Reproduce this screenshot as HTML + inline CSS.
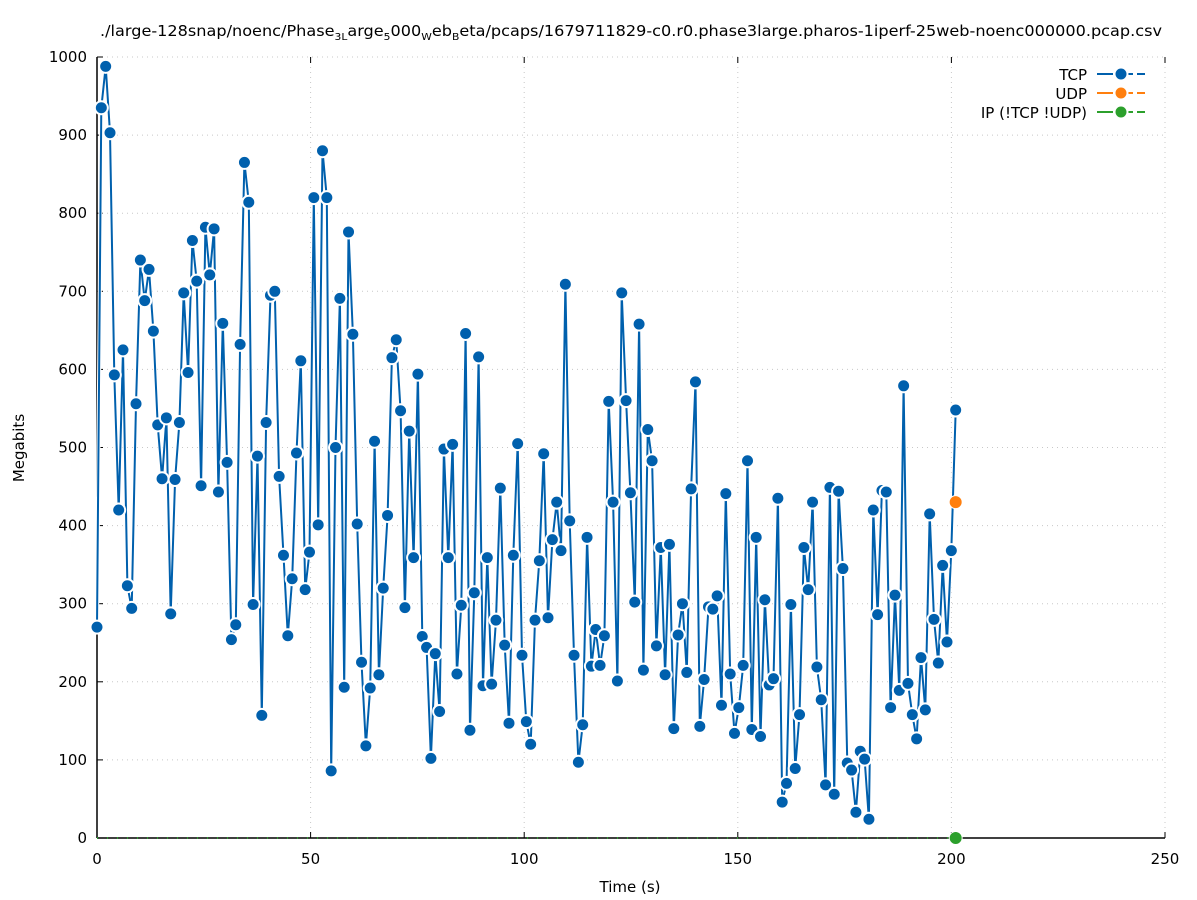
<!DOCTYPE html>
<html><head><meta charset="utf-8"><style>
html,body{margin:0;padding:0;background:#fff}
svg{display:block;font-family:"DejaVu Sans","Liberation Sans",sans-serif}
</style></head><body>
<svg id="s" width="1197" height="900" xmlns="http://www.w3.org/2000/svg">
<rect width="1197" height="900" fill="#fff"/>
<g id="grid" stroke="#c8c8c8" stroke-width="1" stroke-dasharray="1,4"></g>
<g id="axes"></g>
<g id="series"></g>
<text x="631" y="36" text-anchor="middle" font-size="15" textLength="1062" lengthAdjust="spacingAndGlyphs">./large-128snap/noenc/Phase<tspan font-size="10" dy="4">3L</tspan><tspan dy="-4">arge</tspan><tspan font-size="10" dy="4">5</tspan><tspan dy="-4">000</tspan><tspan font-size="10" dy="4">W</tspan><tspan dy="-4">eb</tspan><tspan font-size="10" dy="4">B</tspan><tspan dy="-4">eta/pcaps/1679711829-c0.r0.phase3large.pharos-1iperf-25web-noenc000000.pcap.csv</tspan></text>
<text x="630" y="892" text-anchor="middle" font-size="15">Time (s)</text>
<text transform="translate(24,448) rotate(-90)" text-anchor="middle" font-size="15">Megabits</text>
<g font-size="15" text-anchor="end">
<text x="1087" y="80">TCP</text>
<text x="1087" y="99">UDP</text>
<text x="1087" y="118">IP (!TCP  !UDP)</text>
</g>
<g stroke-width="2">
<line x1="1097" y1="74" x2="1145" y2="74" stroke="#0060ad" stroke-dasharray="16,4"/>
<line x1="1097" y1="93" x2="1145" y2="93" stroke="#ff7f0e" stroke-dasharray="16,4"/>
<line x1="1097" y1="112" x2="1145" y2="112" stroke="#2ca02c" stroke-dasharray="16,4"/>
</g>
<circle cx="1121" cy="74" r="6.5" fill="#0060ad" stroke="#fff" stroke-width="2"/>
<circle cx="1121" cy="93" r="6.5" fill="#ff7f0e" stroke="#fff" stroke-width="2"/>
<circle cx="1121" cy="112" r="6.5" fill="#2ca02c" stroke="#fff" stroke-width="2"/>
</svg>
<script>
var NS="http://www.w3.org/2000/svg";
function X(t){return 97+t*4.272;}
function Y(v){return 838-v*0.781;}
function el(p,n,a,txt){var e=document.createElementNS(NS,n);for(var k in a)e.setAttribute(k,a[k]);if(txt!==undefined)e.textContent=txt;p.appendChild(e);return e;}
var grid=document.getElementById('grid'),axes=document.getElementById('axes'),ser=document.getElementById('series');
for(var v=100;v<=1000;v+=100)el(grid,'line',{x1:97,x2:1165,y1:Y(v),y2:Y(v)});
for(var t=50;t<=250;t+=50)el(grid,'line',{x1:X(t),x2:X(t),y1:57,y2:838});
el(axes,'line',{x1:97,y1:57,x2:97,y2:838,stroke:'#000','stroke-width':1.5});
el(axes,'line',{x1:97,y1:838,x2:1165,y2:838,stroke:'#000','stroke-width':1.5});
for(var v=0;v<=1000;v+=100){el(axes,'line',{x1:97,x2:103,y1:Y(v),y2:Y(v),stroke:'#000'});
 el(axes,'text',{x:87,y:Y(v)+5,'text-anchor':'end','font-size':15},String(v));}
for(var t=0;t<=250;t+=50){el(axes,'line',{x1:X(t),x2:X(t),y1:838,y2:832,stroke:'#000'});
 el(axes,'line',{x1:X(t),x2:X(t),y1:57,y2:63,stroke:'#000'});
 el(axes,'text',{x:X(t),y:864,'text-anchor':'middle','font-size':15},String(t));}
var d=[270,935,988,903,593,420,625,323,294,556,740,688,728,649,529,460,538,287,459,532,698,596,765,713,451,782,721,780,443,659,481,254,273,632,865,814,299,489,157,532,695,700,463,362,259,332,493,611,318,366,820,401,880,820,86,500,691,193,776,645,402,225,118,192,508,209,320,413,615,638,547,295,521,359,594,258,244,102,236,162,498,359,504,210,298,646,138,314,616,195,359,197,279,448,247,147,362,505,234,149,120,279,355,492,282,382,430,368,709,406,234,97,145,385,220,267,221,259,559,430,201,698,560,442,302,658,215,523,483,246,372,209,376,140,260,300,212,447,584,143,203,296,293,310,170,441,210,134,167,221,483,139,385,130,305,196,204,435,46,70,299,89,158,372,318,430,219,177,68,449,56,444,345,96,87,33,111,101,24,420,286,445,443,167,311,189,579,198,158,127,231,164,415,280,224,349,251,368,548];
var n=d.length;function T(i){return i*201/(n-1);}
el(ser,'line',{x1:X(0),y1:838,x2:X(201),y2:838,stroke:'#2ca02c','stroke-width':2,'stroke-dasharray':'1,9'});
el(ser,'line',{x1:X(0),y1:Y(430),x2:X(201),y2:Y(430),stroke:'#ff7f0e','stroke-width':2,'stroke-dasharray':'3,7'});
for(var t=0;t<201;t+=2)el(ser,'circle',{cx:X(t),cy:Y(430),r:5.5,fill:'#fff'});
var pts=[];for(var i=0;i<n;i++)pts.push(X(T(i)).toFixed(1)+','+Y(d[i]).toFixed(1));
el(ser,'polyline',{points:pts.join(' '),fill:'none',stroke:'#fff','stroke-width':4});
el(ser,'polyline',{points:pts.join(' '),fill:'none',stroke:'#0060ad','stroke-width':2});
for(var i=0;i<n;i++)el(ser,'circle',{cx:X(T(i)),cy:Y(d[i]),r:6.5,fill:'#0060ad',stroke:'#fff','stroke-width':2});
el(ser,'circle',{cx:X(201),cy:Y(430),r:6.5,fill:'#ff7f0e',stroke:'#fff','stroke-width':1});
el(ser,'circle',{cx:X(201),cy:838,r:6.5,fill:'#2ca02c',stroke:'#fff','stroke-width':1});
</script>
</body></html>
